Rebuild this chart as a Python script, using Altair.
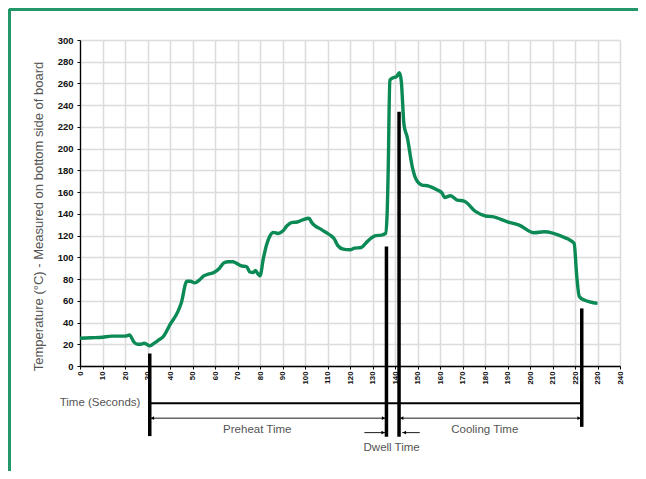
import altair as alt
import pandas as pd

# ---- curve data (time in seconds, temperature in °C) ----
time_s = [0, 5, 10, 14, 18, 20, 22, 24, 25.5, 27, 28.5, 30, 31, 33, 35, 37, 40, 43.5, 45, 47.5,
          49, 51, 53, 55, 57, 59.5, 62, 64, 66, 68, 70, 72, 74, 75.5, 77, 78, 79, 80, 81.5, 83,
          84.5, 86, 88, 90, 92, 94, 96.5, 99, 101.7, 103, 104.5, 107, 110, 111.5, 113, 114.5,
          117, 120, 122, 125, 127, 129.5, 131.5, 134, 135.8, 136.5, 137, 137.7, 139.5, 140.5,
          142, 142.8, 144, 145.5, 147.7, 149.2, 152, 155, 158.8, 161, 162, 164.7, 167.7, 170.7,
          175.9, 180.3, 183.3, 190, 195.2, 201.8, 206.3, 215.2, 216.7, 219.6, 220.8, 221.9,
          224.1, 230]
temp_c = [25.5, 26, 26.5, 27.5, 27.5, 27.5, 28.5, 22, 20, 20, 21, 19.5, 18.5, 21, 24, 27, 38, 50,
          58, 78, 78, 76.5, 79, 83, 84.5, 86, 90, 95, 96, 96, 94, 92, 91.5, 86.5, 86, 88, 85, 83,
          99, 112, 120, 123, 122, 124, 129, 132, 132.5, 134.5, 136, 132, 129, 126, 122, 120,
          117, 111, 107.5, 107, 108.5, 109, 113, 118, 120, 120.5, 122, 140, 183, 263, 265.5,
          266, 270, 262, 222, 210, 183, 172.6, 166.5, 165.6, 162, 159, 155, 156.7, 152.7, 151.8,
          142, 138, 137.4, 132.7, 129.7, 122.6, 123.5, 118.4, 117, 112.9, 82, 64, 60.7, 57.6]

# ---- annotation data (in the chart's own units) ----
bar_t = [31, 136.2, 141.8, 223]
bar_top = [11.5, 110, 234, 53]
bar_bottom = [-64.5, -65, -65, -56]

main_span_start = [31]
main_span_end = [223]
main_span_y = [-34.3]

arrow_line_start = [31, 142, 126.4, 143.2]
arrow_line_end = [136, 223, 135.8, 151]
arrow_line_y = [-48, -48, -61.3, -61.3]

arrow_t = [32.2, 134.9, 143.0, 221.8, 134.7, 144.2]
arrow_y = [-48, -48, -48, -48, -61.3, -61.3]
arrow_shape = ["triangle-left", "triangle-right", "triangle-left", "triangle-right",
               "triangle-right", "triangle-left"]

label_text = ["Time (Seconds)", "Preheat Time", "Cooling Time", "Dwell Time"]
label_t = [8.9, 78.8, 179.9, 138.5]
label_y = [-34.3, -58.9, -58.9, -75.2]

x_ticks = list(range(0, 241, 10))
y_ticks = list(range(0, 301, 20))

curve = pd.DataFrame({"t": time_s, "T": temp_c})
bars = pd.DataFrame({"t": bar_t, "top": bar_top, "bottom": bar_bottom})
main_span = pd.DataFrame({"a": main_span_start, "b": main_span_end, "y": main_span_y})
arrow_lines = pd.DataFrame({"a": arrow_line_start, "b": arrow_line_end, "y": arrow_line_y})
arrows = pd.DataFrame({"t": arrow_t, "y": arrow_y, "shape": arrow_shape})
labels = pd.DataFrame({"text": label_text, "t": label_t, "y": label_y})

xs = alt.Scale(domain=[0, 240], nice=False)
ys = alt.Scale(domain=[0, 300], nice=False)

x_axis = alt.Axis(values=x_ticks, labelAngle=270, labelFontSize=7.8, labelFontWeight="bold",
                  labelFont="Liberation Sans", labelColor="#111", tickSize=3, labelPadding=2,
                  domainColor="#000", domainWidth=1.3, tickColor="#000", gridColor="#dcdcdc",
                  gridWidth=1.6, title=None, labelFlush=False, labelOverlap=False)
y_axis = alt.Axis(values=y_ticks, labelFontSize=9.5, labelFontWeight="bold",
                  labelFont="Liberation Sans", labelColor="#111", tickSize=3, labelPadding=4,
                  domainColor="#000", domainWidth=1.3, tickColor="#000", gridColor="#dcdcdc",
                  gridWidth=1.6, title="Temperature (°C) - Measured on bottom side of board",
                  titleFont="Liberation Sans", titleFontSize=13, titleFontWeight="normal",
                  titleColor="#555", titleAngle=270, titleBaseline="middle", titleX=-42,
                  titleY=176, labelFlush=False, labelOverlap=False)


def X(field):
    return alt.X(field, type="quantitative", scale=xs, axis=x_axis)


def Y(field):
    return alt.Y(field, type="quantitative", scale=ys, axis=y_axis)


base_line = alt.Chart(curve).mark_line(color="#0b8a55", strokeWidth=3.4,
                                       interpolate="monotone").encode(
    x=X("t"), y=Y("T"))

bar_layer = alt.Chart(bars).mark_rule(color="#000", strokeWidth=3.5).encode(
    x=X("t"), y=Y("top"), y2="bottom:Q")

main_span_layer = alt.Chart(main_span).mark_rule(color="#000", strokeWidth=1.8).encode(
    x=X("a"), x2="b:Q", y=Y("y"))

arrow_line_layer = alt.Chart(arrow_lines).mark_rule(color="#000", strokeWidth=0.9).encode(
    x=X("a"), x2="b:Q", y=Y("y"))

arrow_layer = alt.Chart(arrows).mark_point(filled=True, color="#000", size=14, opacity=1).encode(
    x=X("t"), y=Y("y"), shape=alt.Shape("shape:N", scale=None))

label_layer = alt.Chart(labels).mark_text(font="Liberation Sans", fontSize=11.5, color="#555",
                                          align="center", baseline="middle").encode(
    x=X("t"), y=Y("y"), text="text:N")

frame_left = alt.Chart(curve).mark_rule(color="#23966a", strokeWidth=2.5).encode(
    x=alt.value(-71), y=alt.value(-31), y2=alt.value(470))
frame_top = alt.Chart(curve).mark_rule(color="#23966a", strokeWidth=2.5).encode(
    x=alt.value(-71), x2=alt.value(600), y=alt.value(-31))

chart = alt.layer(
    base_line, bar_layer, main_span_layer, arrow_line_layer, arrow_layer, label_layer,
    frame_left, frame_top
).properties(
    width=540, height=326,
    autosize=alt.AutoSizeParams(type="none"),
    padding={"left": 72, "top": 32, "right": 18, "bottom": 105},
    background="#ffffff",
).configure_view(stroke=None)

chart.save("out.html", embed_options={"renderer": "svg", "actions": False})
